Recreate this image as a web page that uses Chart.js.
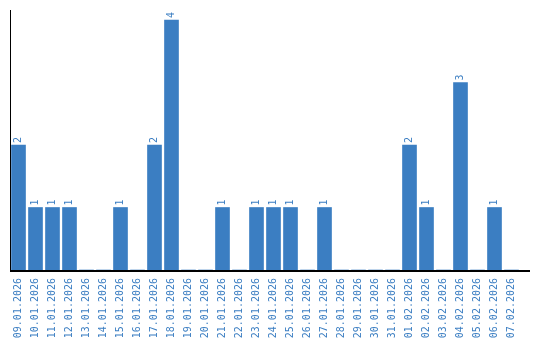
<!DOCTYPE html>
<html>
<head>
<meta charset="utf-8">
<script src="https://cdn.jsdelivr.net/npm/chart.js@4/dist/chart.umd.min.js"></script>
<style>
  html, body { margin: 0; padding: 0; background: #fff; }
  #chart { display: block; }
</style>
</head>
<body>
<canvas id="chart" width="540" height="340"></canvas>
<script>
// dates and counts per day
let dates = [
    "09.01.2026", "10.01.2026", "11.01.2026", "12.01.2026", "13.01.2026",
    "14.01.2026", "15.01.2026", "16.01.2026", "17.01.2026", "18.01.2026",
    "19.01.2026", "20.01.2026", "21.01.2026", "22.01.2026", "23.01.2026",
    "24.01.2026", "25.01.2026", "26.01.2026", "27.01.2026", "28.01.2026",
    "29.01.2026", "30.01.2026", "31.01.2026", "01.02.2026", "02.02.2026",
    "03.02.2026", "04.02.2026", "05.02.2026", "06.02.2026", "07.02.2026"
];
let counts = [
    2, 1, 1, 1, 0,
    0, 1, 0, 2, 4,
    0, 0, 1, 0, 1,
    1, 1, 0, 1, 0,
    0, 0, 0, 2, 1,
    0, 3, 0, 1, 0
];

let blue = "#3b7ec2";
let mono = "'DejaVu Sans Mono', 'Liberation Mono', monospace";

// numbers above the bars, rotated
let valueLabels = {
    id: 'valueLabels',
    afterDatasetsDraw(chart) {
        let ctx = chart.ctx;
        let meta = chart.getDatasetMeta(0);
        ctx.save();
        ctx.fillStyle = blue;
        ctx.font = "10px " + mono;
        ctx.textAlign = 'left';
        ctx.textBaseline = 'middle';
        meta.data.forEach(function (bar, i) {
            if (!counts[i]) return;
            ctx.save();
            ctx.translate(bar.x, bar.y - 2);
            ctx.rotate(-Math.PI / 2);
            ctx.fillText(String(counts[i]), 0, 0);
            ctx.restore();
        });
        ctx.restore();
    }
};

// x axis line, runs a bit past the last category
let axisLine = {
    id: 'axisLine',
    afterDraw(chart) {
        let a = chart.chartArea;
        let ctx = chart.ctx;
        ctx.save();
        ctx.strokeStyle = "#000";
        ctx.lineWidth = 2;
        ctx.beginPath();
        ctx.moveTo(a.left, a.bottom + 1);
        ctx.lineTo(530, a.bottom + 1);
        ctx.stroke();
        ctx.restore();
    }
};

new Chart(document.getElementById('chart'), {
    type: 'bar',
    data: {
        labels: dates,
        datasets: [{
            data: counts,
            backgroundColor: blue,
            barThickness: 14
        }]
    },
    options: {
        responsive: false,
        animation: false,
        layout: { padding: { left: 10, right: 20, top: 10, bottom: 0 } },
        plugins: {
            legend: { display: false },
            tooltip: { enabled: false }
        },
        scales: {
            x: {
                grid: { display: false },
                border: { display: false },
                ticks: {
                    color: blue,
                    font: { family: mono, size: 10 },
                    minRotation: 90,
                    maxRotation: 90,
                    autoSkip: false,
                    padding: 0
                },
                afterFit(scale) { scale.height = 70; }
            },
            y: {
                min: 0,
                max: 4.16,
                grid: { display: false },
                border: { display: true, color: "#000", width: 1 },
                ticks: { display: false },
                afterFit(scale) { scale.width = 0; }
            }
        }
    },
    plugins: [valueLabels, axisLine]
});
</script>
</body>
</html>
